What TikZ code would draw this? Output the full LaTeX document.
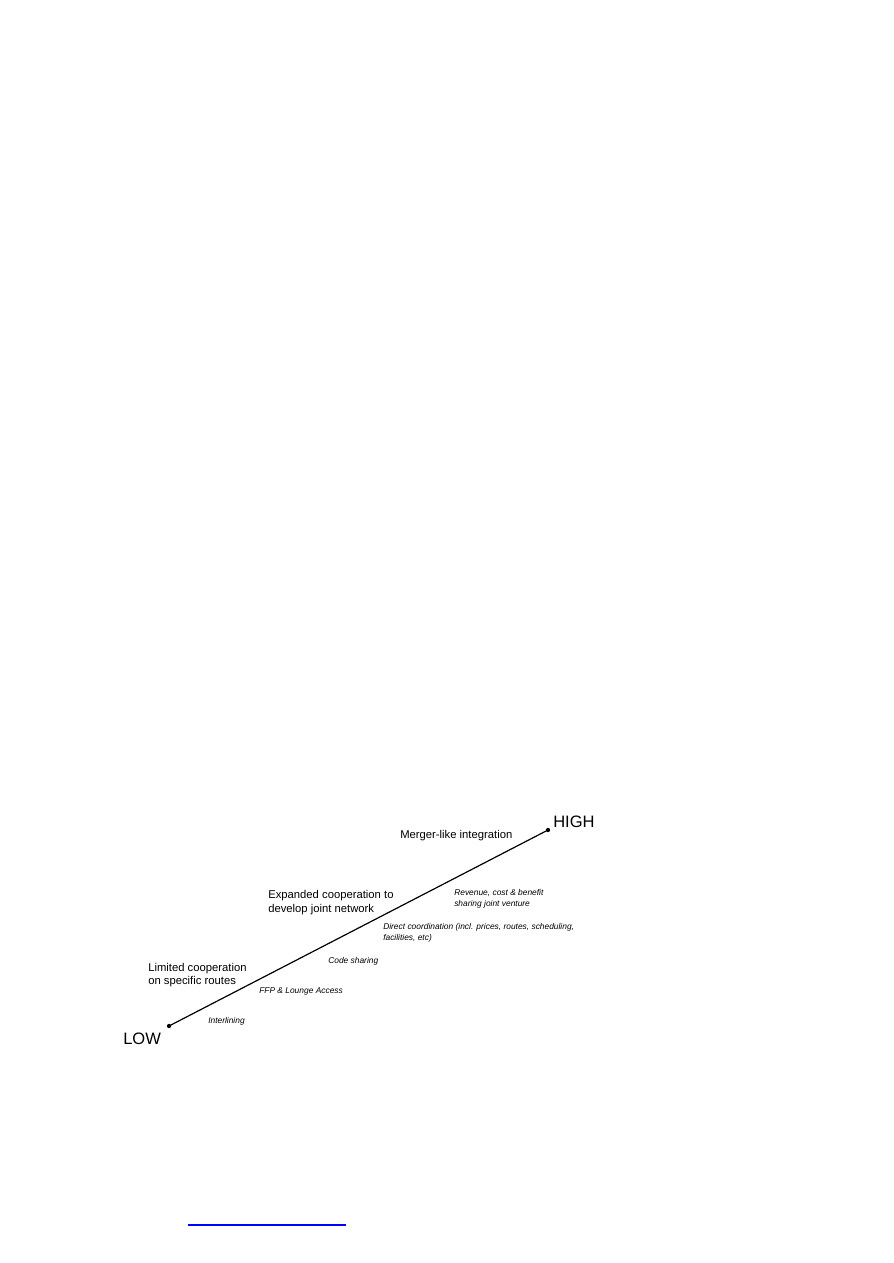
\documentclass[tikz,border=0pt]{standalone}
\usepackage{fontspec}
\setmainfont{Liberation Sans}
\begin{document}
\begin{tikzpicture}[x=0.75pt,y=-0.75pt,
  dot/.style={circle,fill=black,inner sep=0pt,minimum size=3.2pt},
  endlabel/.style={anchor=west,inner sep=0pt,font=\fontsize{12.4}{14}\selectfont},
  stage/.style={anchor=west,inner sep=0pt,align=left,font=\fontsize{8.45}{10.3}\selectfont},
  item/.style={anchor=west,inner sep=0pt,align=left,font=\fontsize{6.3}{8.2}\selectfont\itshape}]
\useasboundingbox (0,0) rectangle (893,1263);
\node[dot] (lowdot) at (169,1026) {};
\node[dot] (highdot) at (548,830) {};
\draw[line width=0.9pt] (lowdot.center) -- (highdot.center);
\node[endlabel] (high) at (553,822) {HIGH};
\node[endlabel] (low) at (123,1039) {LOW};
\node[stage] (merger) at (400,836) {Merger-like integration};
\node[stage] (expanded) at (268,902.5) {Expanded cooperation to\\develop joint network};
\node[stage] (limited) at (148,975) {Limited cooperation\\on specific routes};
\node[item] (revenue) at (454,898.5) {Revenue, cost \& benefit\\sharing joint venture};
\node[item] (direct) at (383,932.5) {Direct coordination (incl. prices, routes, scheduling,\\facilities, etc)};
\node[item] (code) at (328,961) {Code sharing};
\node[item] (ffp) at (259,991) {FFP \& Lounge Access};
\node[item] (inter) at (208,1021) {Interlining};
\draw[blue,line width=1.6pt] (188,1225) -- (346,1225);
\end{tikzpicture}
\end{document}
